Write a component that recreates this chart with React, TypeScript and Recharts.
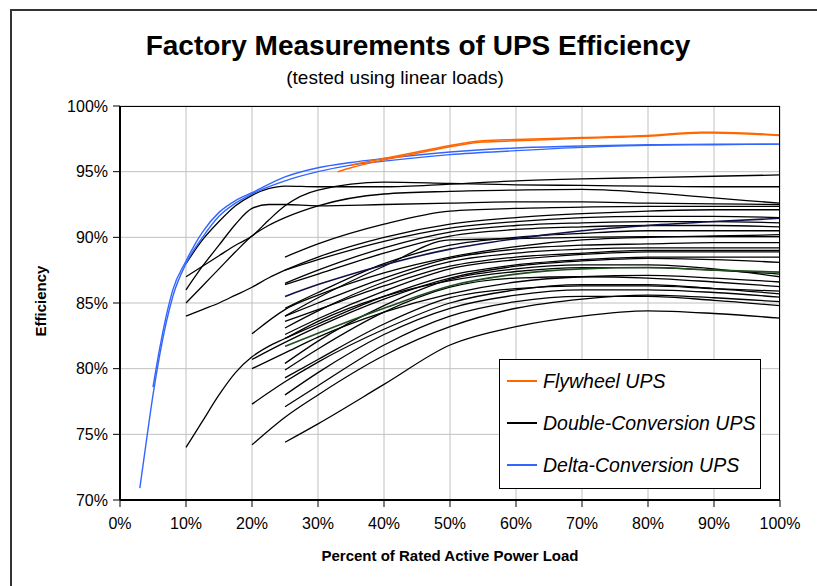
import { LineChart, Line, XAxis, YAxis, CartesianGrid } from 'recharts';

// x positions (percent of rated load)
const loads10 = [10, 12.5, 15, 17.5, 20, 22.5, 25, 30, 40, 50, 60, 70, 80, 90, 100];
const loads20 = [20, 25, 30, 40, 50, 60, 70, 80, 90, 100];
const loads25 = [25, 30, 40, 50, 60, 70, 80, 90, 100];

// double-conversion units measured from 10%
const dc10a = [88.0, 89.8, 91.2, 92.4, 93.2, 93.7, 93.9, 93.85, 93.85, 94.05, 94.3, 94.45, 94.55, 94.65, 94.75];
const dc10b = [87.0, 87.8, 88.6, 89.4, 90.1, 91.3, 92.4, 93.6, 94.2, 94.1, 94.0, 93.95, 93.9, 93.85, 93.85];
const dc10c = [86.0, 87.8, 89.4, 91.0, 92.2, 92.5, 92.5, 92.4, 92.5, 92.6, 92.7, 92.7, 92.6, 92.55, 92.5];
const dc10d = [85.0, 86.3, 87.6, 88.9, 90.1, 90.9, 91.5, 92.4, 93.3, 93.5, 93.6, 93.65, 93.4, 93.0, 92.6];
const dc10e = [84.0, 84.5, 85.0, 85.6, 86.2, 86.9, 87.5, 88.5, 90.0, 91.0, 91.5, 91.8, 92.0, 92.1, 92.1];
const dc10f = [74.0, 76.0, 78.0, 79.7, 80.9, 81.7, 82.3, 83.6, 85.5, 86.7, 87.4, 87.7, 87.7, 87.5, 87.2];

// double-conversion units measured from 20%
const dc20a = [82.65, 84.5, 85.6, 87.3, 88.5, 89.3, 89.8, 90.0, 90.1, 90.2];
const dc20b = [80.7, 82.0, 83.2, 85.3, 86.9, 87.8, 88.2, 88.4, 88.3, 88.1];
const dc20c = [80.0, 81.2, 82.4, 84.3, 85.7, 86.6, 87.0, 87.1, 86.9, 86.6];
const dc20d = [77.3, 79.0, 80.5, 83.0, 85.0, 86.0, 86.4, 86.4, 86.1, 85.7];
const dc20e = [74.2, 76.3, 78.0, 81.0, 83.2, 84.6, 85.3, 85.6, 85.4, 85.1];

// double-conversion units measured from 25%
const dc25 = [
  [88.5, 89.5, 91.0, 92.0, 92.2, 92.3, 92.35, 92.35, 92.35],
  [87.5, 88.3, 89.7, 90.7, 91.2, 91.5, 91.6, 91.6, 91.5],
  [86.5, 87.5, 89.2, 90.4, 90.9, 91.1, 91.2, 91.2, 91.1],
  [86.4, 87.2, 88.8, 90.1, 90.6, 90.8, 90.9, 90.9, 90.8],
  [84.6, 85.8, 88.0, 89.4, 90.0, 90.3, 90.5, 90.5, 90.5],
  [84.0, 85.4, 87.8, 89.8, 89.9, 90.0, 90.05, 90.05, 90.05],
  [84.0, 85.0, 86.9, 88.4, 89.1, 89.4, 89.5, 89.6, 89.6],
  [83.1, 84.4, 86.6, 88.15, 88.8, 89.1, 89.2, 89.2, 89.2],
  [83.6, 84.5, 86.3, 87.8, 88.5, 88.8, 89.0, 89.0, 89.0],
  [82.6, 83.8, 85.9, 87.6, 88.3, 88.7, 88.9, 88.9, 88.9],
  [82.3, 83.4, 85.5, 87.1, 87.9, 88.3, 88.5, 88.5, 88.5],
  [80.4, 82.1, 84.8, 86.8, 87.6, 87.9, 87.9, 87.6, 87.0],
  [79.9, 81.5, 84.3, 86.2, 86.9, 87.0, 86.9, 86.6, 86.25],
  [79.3, 80.7, 83.4, 85.4, 86.1, 86.3, 86.3, 86.1, 85.9],
  [78.0, 79.7, 82.6, 84.6, 85.6, 86.0, 86.0, 85.8, 85.45],
  [77.1, 78.7, 81.8, 84.0, 85.1, 85.5, 85.5, 85.2, 84.8],
  [74.4, 75.8, 78.8, 81.8, 83.2, 84.0, 84.4, 84.2, 83.85],
];
const dcNavy = [85.5, 86.4, 87.9, 89.1, 89.9, 90.5, 90.9, 91.2, 91.45];
const dcGreen = [81.7, 82.7, 84.6, 86.3, 87.2, 87.6, 87.7, 87.5, 87.35];

// delta-conversion units
const deltaLoadsA = [3, 4, 5, 6, 7, 8, 10, 12.5, 15, 17.5, 20, 25, 30, 35, 40, 50, 60, 70, 80, 90, 100];
const deltaA = [70.9, 74.5, 78.0, 81.0, 83.5, 85.5, 88.0, 90.0, 91.6, 92.6, 93.3, 94.3, 95.0, 95.5, 95.8, 96.3, 96.6, 96.85, 97.0, 97.05, 97.1];
const deltaLoadsB = [5, 6, 7, 8, 10, 12.5, 15, 17.5, 20, 25, 30, 35, 40, 50, 60, 70, 80, 90, 100];
const deltaB = [78.6, 81.5, 84.0, 86.0, 88.2, 90.4, 91.9, 92.8, 93.4, 94.6, 95.3, 95.7, 96.0, 96.5, 96.8, 96.95, 97.05, 97.1, 97.1];

// flywheel units
const flyLoadsA = [33, 35, 40, 45, 50, 55, 60, 70, 80, 88, 90, 100];
const flyA = [95.0, 95.3, 95.9, 96.4, 96.9, 97.25, 97.35, 97.55, 97.7, 97.95, 97.95, 97.75];
const flyLoadsB = [35, 40, 45, 50, 55, 60, 70, 80, 88, 90, 100];
const flyB = [95.5, 96.0, 96.5, 97.0, 97.35, 97.45, 97.6, 97.75, 98.0, 98.0, 97.8];

const xTicks = [0, 10, 20, 30, 40, 50, 60, 70, 80, 90, 100];
const yTicks = [70, 75, 80, 85, 90, 95, 100];

const zip = (xs: number[], ys: number[]) => xs.map((load, i) => ({ load, eff: ys[i] }));

const BLACK = '#000000';
const BLUE = '#3366FF';
const ORANGE = '#FF6600';

const series = [
  ...[dc10a, dc10b, dc10c, dc10d, dc10e, dc10f].map((v) => ({ data: zip(loads10, v), color: BLACK, w: 1.3 })),
  ...[dc20a, dc20b, dc20c, dc20d, dc20e].map((v) => ({ data: zip(loads20, v), color: BLACK, w: 1.3 })),
  ...dc25.map((v) => ({ data: zip(loads25, v), color: BLACK, w: 1.3 })),
  { data: zip(loads25, dcNavy), color: '#101048', w: 1.6 },
  { data: zip(loads25, dcGreen), color: '#1f4f1f', w: 1.6 },
  { data: zip(deltaLoadsA, deltaA), color: BLUE, w: 1.4 },
  { data: zip(deltaLoadsB, deltaB), color: BLUE, w: 1.4 },
  { data: zip(flyLoadsA, flyA), color: ORANGE, w: 1.5 },
  { data: zip(flyLoadsB, flyB), color: ORANGE, w: 1.5 },
];

const font = '"Liberation Sans", Arial, sans-serif';
const tickStyle = { fontFamily: font, fontSize: 16, fill: '#000' };

const legendItems = [
  { label: 'Flywheel UPS', color: ORANGE },
  { label: 'Double-Conversion UPS', color: BLACK },
  { label: 'Delta-Conversion UPS', color: BLUE },
];

export default function App() {
  return (
    <div style={{ position: 'absolute', left: 0, top: 0, width: 817, height: 586, background: '#fff', overflow: 'hidden' }}>
      {/* outer chart frame, only top and left edges are visible */}
      <div style={{ position: 'absolute', left: 10, top: 9, width: 830, height: 600, borderTop: '2px solid #333', borderLeft: '2px solid #333' }} />

      <LineChart width={817} height={586} margin={{ top: 106, right: 37, bottom: 56, left: 0 }}>
        <CartesianGrid stroke="#c0c0c0" strokeWidth={1} />
        <XAxis
          type="number"
          dataKey="load"
          domain={[0, 100]}
          ticks={xTicks}
          tickFormatter={(v) => `${v}%`}
          height={30}
          tick={tickStyle}
          tickSize={7}
          tickMargin={11}
          axisLine={{ stroke: '#000', strokeWidth: 2 }}
          tickLine={{ stroke: '#000' }}
          allowDuplicatedCategory={false}
        />
        <YAxis
          type="number"
          dataKey="eff"
          domain={[70, 100]}
          ticks={yTicks}
          tickFormatter={(v) => `${v}%`}
          width={120}
          tick={tickStyle}
          tickSize={7}
          tickMargin={5}
          axisLine={{ stroke: '#000', strokeWidth: 2 }}
          tickLine={{ stroke: '#000' }}
        />
        {series.map((s, i) => (
          <Line
            key={i}
            data={s.data}
            dataKey="eff"
            type="monotone"
            stroke={s.color}
            strokeWidth={s.w}
            dot={false}
            activeDot={false}
            isAnimationActive={false}
          />
        ))}
      </LineChart>

      {/* plot border top / right */}
      <div style={{ position: 'absolute', left: 120, top: 106, width: 660, height: 394, borderTop: '1px solid #000', borderRight: '1px solid #000', boxSizing: 'border-box', pointerEvents: 'none' }} />

      <div style={{ position: 'absolute', left: 418, top: 30, transform: 'translateX(-50%)', whiteSpace: 'nowrap', fontFamily: font, fontWeight: 'bold', fontSize: 28 }}>
        Factory Measurements of UPS Efficiency
      </div>
      <div style={{ position: 'absolute', left: 395, top: 67, transform: 'translateX(-50%)', whiteSpace: 'nowrap', fontFamily: font, fontSize: 19 }}>
        (tested using linear loads)
      </div>

      <div style={{ position: 'absolute', left: 40, top: 301, transform: 'translate(-50%, -50%) rotate(-90deg)', whiteSpace: 'nowrap', fontFamily: font, fontWeight: 'bold', fontSize: 15 }}>
        Efficiency
      </div>
      <div style={{ position: 'absolute', left: 450, top: 547, transform: 'translateX(-50%)', whiteSpace: 'nowrap', fontFamily: font, fontWeight: 'bold', fontSize: 15 }}>
        Percent of Rated Active Power Load
      </div>

      {/* legend */}
      <div style={{ position: 'absolute', left: 499, top: 359, width: 262, height: 130, background: '#fff', border: '1px solid #000', boxSizing: 'border-box' }}>
        {legendItems.map((item, i) => (
          <div key={item.label} style={{ position: 'absolute', left: 7, top: 9 + i * 42, height: 24, display: 'flex', alignItems: 'center' }}>
            <div style={{ width: 30, height: 1.5, background: item.color }} />
            <span style={{ marginLeft: 6, fontFamily: font, fontStyle: 'italic', fontSize: 19.5, whiteSpace: 'nowrap' }}>{item.label}</span>
          </div>
        ))}
      </div>
    </div>
  );
}
